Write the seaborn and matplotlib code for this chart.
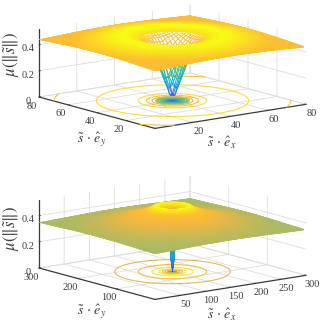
import numpy as np
import matplotlib
matplotlib.use("Agg")
import matplotlib.pyplot as plt
import seaborn as sns
from matplotlib.colors import Normalize
from mpl_toolkits.mplot3d import proj3d
from mpl_toolkits.mplot3d.art3d import Poly3DCollection, Line3DCollection

# values: surface height against distance from the centre
top_radius = [0, 1, 2.5, 5, 6.5, 8.6, 11, 15, 20, 25, 32, 40, 48, 54, 57]
top_mu = [0, .04, .11, .23, .30, .40, .445, .48, .495, .49, .475, .458, .447, .44, .437]
bot_radius = [0, 2, 3, 5, 8, 12, 16, 22, 28, 32.6, 42, 53.7, 70, 91, 120, 150, 180, 213]
bot_mu = [0, .05, .12, .22, .32, .41, .45, .495, .505, .49, .47, .45, .425, .40, .375, .36, .352, .347]
top_levels = [.03, .06, .09, .12, .15, .18, .21, .24, .27, .30, .33, .40, .445, .475]
bot_levels = [.04, .1, .2, .3, .4, .45, .49]
top_xticks = [20, 40, 60, 80]
top_yticks = [20, 40, 60, 80]
bot_xticks = [50, 100, 150, 200, 250, 300]
bot_yticks = [100, 200, 300]
z_ticks = [0, .2, .4]
z_labels = ["0", "0.2", "0.4"]
x_label = r"$\tilde{s}\,\cdot\,\hat{e}_x$"
y_label = r"$\tilde{s}\,\cdot\,\hat{e}_y$"
z_label = r"$\mu(\|\tilde{s}\|)$"
parula = ["#3e26a8", "#4358f0", "#3078e8", "#2c8ee0", "#12aedb", "#1cbcae", "#38c090",
          "#68c068", "#8cbe60", "#a8bb66", "#d4b850", "#f4b840", "#fdc030", "#f9fb15"]

sns.set_theme(style="white", rc={"font.family": ["Liberation Serif", "DejaVu Serif"],
                                 "mathtext.fontset": "stix"})
cmap = sns.blend_palette(parula, as_cmap=True)
W, H = 334, 326
fig = plt.figure(figsize=(W / 100, H / 100), dpi=100)
DARK = "#3a3a3a"
TEXT = "#3c3c3c"


def place(ax, left_px, right_px, extent):
    """Scale and shift the square axes so that two floor corners land where wanted."""
    xm, ym = extent[1], extent[1]
    size, x0, y0 = 300.0, 0.0, 0.0
    for _ in range(4):
        ax.set_position([x0 / W, y0 / H, size / W, size / H])
        ax.apply_aspect()
        M = ax.get_proj()
        ax.M = M
        pts = []
        for cx, cy in ((0, ym), (xm, 0)):
            a, b, _c = proj3d.proj_transform(cx, cy, 0, M)
            pts.append(ax.transData.transform((a, b)))
        size *= (right_px[0] - left_px[0]) / (pts[1][0] - pts[0][0])
        ax.set_position([x0 / W, y0 / H, size / W, size / H])
        ax.apply_aspect()
        a, b, _c = proj3d.proj_transform(0, ym, 0, M)
        p = ax.transData.transform((a, b))
        x0 += left_px[0] - p[0]
        y0 += (H - left_px[1]) - p[1]
    ax.set_position([x0 / W, y0 / H, size / W, size / H])


def panel(rect, radius, mu, levels, n, xt, yt, left, right, wire_r, wire_step, label_pos):
    ax = fig.add_axes(rect, projection="3d", computed_zorder=False, proj_type="ortho")
    ax.set_facecolor("none")
    ax.view_init(elev=12, azim=-127.5)
    ax.set_box_aspect((190, 190, 69.5))
    ax.set_xlim(0, n); ax.set_ylim(0, n); ax.set_zlim(0, .52)
    norm = Normalize(0, max(mu))
    c = n / 2

    def height(xx, yy):
        return np.interp(np.hypot(xx - c, yy - c), radius, mu)

    # floor contours
    g = np.linspace(0, n, 801)
    GX, GY = np.meshgrid(g, g)
    ax.contour(GX, GY, height(GX, GY), levels=levels, zdir="z", offset=0,
               cmap=cmap, norm=norm, linewidths=.75, zorder=1)

    # open wire mesh in the middle
    if wire_r > 0:
        w = c + np.arange(-wire_r - wire_step, wire_r + wire_step * 1.01, wire_step)
        WX, WY = np.meshgrid(w, w)
        WZ = height(WX, WY)
        segs, vals = [], []
        for arrs in ((WX, WY, WZ), (WX.T, WY.T, WZ.T)):
            P = np.stack(arrs, axis=-1)
            a, b = P[:, :-1].reshape(-1, 3), P[:, 1:].reshape(-1, 3)
            rr = np.hypot((a[:, 0] + b[:, 0]) / 2 - c, (a[:, 1] + b[:, 1]) / 2 - c)
            keep = rr < wire_r + wire_step
            segs.append(np.stack([a[keep], b[keep]], axis=1))
            vals.append((a[keep, 2] + b[keep, 2]) / 2)
        lc = Line3DCollection(np.concatenate(segs), colors=cmap(norm(np.concatenate(vals))),
                              linewidths=.7, zorder=2)
        ax.add_collection3d(lc)

    # solid surface
    edges = np.unique(np.concatenate([np.linspace(0, n, 141),
                                      c + np.linspace(-n / 8, n / 8, 61)]))
    SX, SY = np.meshgrid(edges, edges)
    SZ = height(SX, SY)
    P = np.stack([SX, SY, SZ], axis=-1)
    quads = np.stack([P[:-1, :-1], P[:-1, 1:], P[1:, 1:], P[1:, :-1]], axis=2).reshape(-1, 4, 3)
    rm = np.hypot(quads[:, :, 0].mean(1) - c, quads[:, :, 1].mean(1) - c)
    keep = rm >= wire_r
    rgba = cmap(norm(quads[keep][:, :, 2].mean(1)))
    pc = Poly3DCollection(quads[keep], facecolors=rgba, edgecolors=rgba,
                          linewidths=.25, zorder=3)
    ax.add_collection3d(pc)

    ax.set_xticks(xt); ax.set_yticks(yt)
    ax.set_zticks(z_ticks, z_labels)
    for axis in (ax.xaxis, ax.yaxis, ax.zaxis):
        axis.set_pane_color((1, 1, 1, 0))
        axis.pane.set_edgecolor((1, 1, 1, 0))
        axis.line.set_color(DARK)
        axis.line.set_linewidth(.9)
        axis._axinfo["grid"].update(color="#dddddd", linewidth=.6)
        axis._axinfo["tick"].update(color=DARK, inward_factor=0, outward_factor=.12, linewidth={True: .6, False: .4})
    ax.tick_params(axis="both", labelsize=7.5, colors=TEXT, pad=-3)
    ax.tick_params(axis="z", labelsize=7.5, colors=TEXT, pad=-4)
    for txt, (px, py), rot, fs in zip((x_label, y_label, z_label), label_pos, (0, 0, 90), (10, 10, 12)):
        fig.text(px / W, 1 - py / H, txt, fontsize=fs, color=TEXT, rotation=rot,
                 ha="center", va="center")
    place(ax, left, right, (0, n))
    return ax


panel([0, .4, .8, .6], top_radius, top_mu, top_levels, 80, top_xticks, top_yticks,
      (39, 97), (306, 102), 14.4, 1.5, ((222, 143), (92, 139), (12, 54)))
panel([0, 0, .8, .6], bot_radius, bot_mu, bot_levels, 300, bot_xticks, bot_yticks,
      (39, 268), (306, 276), 0, 1, ((222, 315), (92, 311), (12, 228)))
fig.savefig("out.png", dpi=100)
